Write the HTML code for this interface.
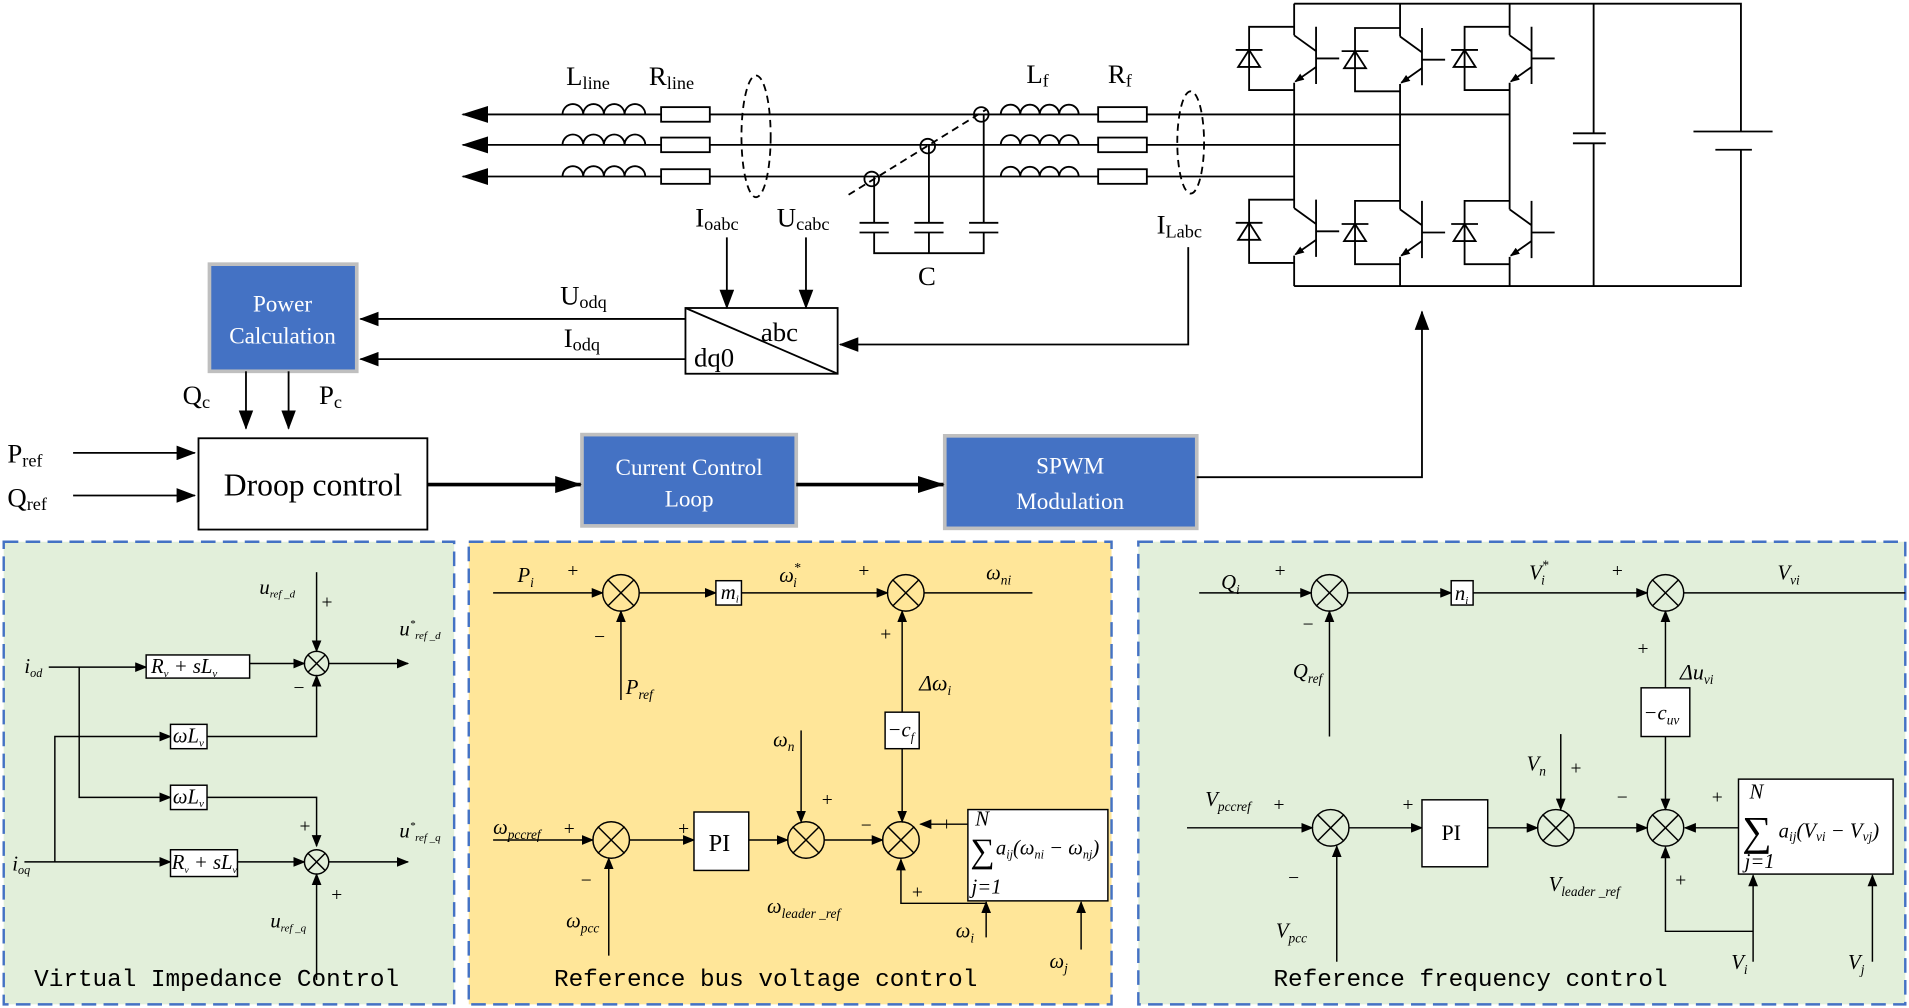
<!DOCTYPE html>
<html><head><meta charset="utf-8">
<style>
html,body{margin:0;padding:0;background:#fff;}
svg{display:block;}
text{font-family:"Liberation Serif",serif;fill:#000;}
.m{font-style:italic;font-size:17px;}
.mono{font-family:"Liberation Mono",monospace;font-size:20px;}
.bt{font-family:"Liberation Serif",serif;font-size:19px;fill:#fff;}
</style></head><body>
<svg width="1909" height="1008" viewBox="0 0 1568 828" xmlns="http://www.w3.org/2000/svg">
<defs>
<marker id="a" markerWidth="10" markerHeight="8" refX="9" refY="4" orient="auto" markerUnits="userSpaceOnUse"><path d="M0,0 L10,4 L0,8z" fill="#000"/></marker>
<marker id="b" markerWidth="22" markerHeight="14" refX="21" refY="7" orient="auto" markerUnits="userSpaceOnUse"><path d="M0,0 L22,7 L0,14z" fill="#000"/></marker>
<marker id="c" markerWidth="16" markerHeight="12" refX="15" refY="6" orient="auto" markerUnits="userSpaceOnUse"><path d="M0,0 L16,6 L0,12z" fill="#000"/></marker>
<marker id="e" markerWidth="8" markerHeight="6" refX="7" refY="3" orient="auto" markerUnits="userSpaceOnUse"><path d="M0,0 L8,3 L0,6z" fill="#000"/></marker>
<g id="sw" stroke="#000" stroke-width="1.5" fill="none">
<path d="M0,0 H-37 V52 H0"/>
<path d="M-48,19 H-26 M-37,19 L-46,33 H-28 Z"/>
<path d="M18,0 V47 M18,26 H37 M0,7 L18,20"/>
<line x1="18" y1="33" x2="1" y2="45" marker-end="url(#e)"/>
</g>
</defs>
<g stroke="#000" stroke-width="1.5" fill="none">
<line x1="1240" y1="94" x2="380" y2="94" marker-end="url(#b)"/>
<line x1="1150" y1="119" x2="380" y2="119" marker-end="url(#b)"/>
<line x1="1063" y1="145" x2="380" y2="145" marker-end="url(#b)"/>
</g>
<g stroke="#000" stroke-width="1.5" fill="#fff">
<path d="M462,94 a8,8 0 0 1 17,0 a8,8 0 0 1 17,0 a8,8 0 0 1 17,0 a8,8 0 0 1 17,0" fill="none"/>
<path d="M462,119 a8,8 0 0 1 17,0 a8,8 0 0 1 17,0 a8,8 0 0 1 17,0 a8,8 0 0 1 17,0" fill="none"/>
<path d="M462,145 a8,8 0 0 1 17,0 a8,8 0 0 1 17,0 a8,8 0 0 1 17,0 a8,8 0 0 1 17,0" fill="none"/>
<rect x="543" y="88" width="40" height="12"/><rect x="543" y="113" width="40" height="12"/><rect x="543" y="139" width="40" height="12"/>
<path d="M822,94 a8,8 0 0 1 16,0 a8,8 0 0 1 16,0 a8,8 0 0 1 16,0 a8,8 0 0 1 16,0" fill="none"/>
<path d="M822,119 a8,8 0 0 1 16,0 a8,8 0 0 1 16,0 a8,8 0 0 1 16,0 a8,8 0 0 1 16,0" fill="none"/>
<path d="M822,145 a8,8 0 0 1 16,0 a8,8 0 0 1 16,0 a8,8 0 0 1 16,0 a8,8 0 0 1 16,0" fill="none"/>
<rect x="902" y="88" width="40" height="12"/><rect x="902" y="113" width="40" height="12"/><rect x="902" y="139" width="40" height="12"/>
</g>
<g stroke="#000" stroke-width="1.5" fill="none" stroke-dasharray="6,4">
<ellipse cx="621" cy="112" rx="12" ry="50"/>
<ellipse cx="978" cy="117" rx="11" ry="42"/>
<line x1="697" y1="160" x2="810" y2="90"/>
</g>
<g stroke="#000" stroke-width="1.5" fill="none">
<circle cx="716" cy="147" r="6"/><circle cx="762" cy="120" r="6"/><circle cx="806" cy="94" r="6"/>
<line x1="718" y1="145" x2="718" y2="183"/><line x1="763" y1="119" x2="763" y2="183"/><line x1="808" y1="94" x2="808" y2="183"/>
<line x1="706" y1="183" x2="730" y2="183"/><line x1="706" y1="191" x2="730" y2="191"/>
<line x1="751" y1="183" x2="775" y2="183"/><line x1="751" y1="191" x2="775" y2="191"/>
<line x1="796" y1="183" x2="820" y2="183"/><line x1="796" y1="191" x2="820" y2="191"/>
<path d="M718,191 V208 H808 V191 M763,191 V208"/>
<path d="M1063,3 H1430 V108 M1430,123 V235 H1063"/>
<path d="M1309,3 V109.5 M1309,117.7 V235"/>
<path d="M1292,109.5 H1319 M1292,117.7 H1319"/>
<path d="M1391,108 H1456 M1409,123 H1439"/>
<path d="M1063,3 V29 M1063,68 V171 M1063,210 V235"/>
<path d="M1150,3 V30 M1150,69 V172 M1150,211 V235"/>
<path d="M1240,3 V29 M1240,68 V172 M1240,211 V235"/>
</g>
<use href="#sw" x="1063" y="22"/><use href="#sw" x="1150" y="23"/><use href="#sw" x="1240" y="22"/>
<use href="#sw" x="1063" y="164"/><use href="#sw" x="1150" y="165"/><use href="#sw" x="1240" y="165"/>
<g font-size="22">
<text x="465" y="70">L<tspan font-size="15" dy="3">line</tspan></text>
<text x="533" y="70">R<tspan font-size="15" dy="3">line</tspan></text>
<text x="843" y="68">L<tspan font-size="15" dy="3">f</tspan></text>
<text x="910" y="68">R<tspan font-size="15" dy="3">f</tspan></text>
<text x="571" y="186">I<tspan font-size="15" dy="3">oabc</tspan></text>
<text x="638" y="186">U<tspan font-size="15" dy="3">cabc</tspan></text>
<text x="950" y="192">I<tspan font-size="15" dy="3">Labc</tspan></text>
<text x="754" y="234">C</text>
<text x="460" y="250">U<tspan font-size="15" dy="3">odq</tspan></text>
<text x="463" y="285">I<tspan font-size="15" dy="3">odq</tspan></text>
<text x="150" y="332">Q<tspan font-size="15" dy="3">c</tspan></text>
<text x="262" y="332">P<tspan font-size="15" dy="3">c</tspan></text>
<text x="6" y="380">P<tspan font-size="15" dy="3">ref</tspan></text>
<text x="6" y="416">Q<tspan font-size="15" dy="3">ref</tspan></text>
</g>
<rect x="172" y="217" width="121" height="88" fill="#4472c4" stroke="#bfbfbf" stroke-width="3"/>
<text class="bt" x="232" y="256" text-anchor="middle">Power</text>
<text class="bt" x="232" y="282" text-anchor="middle">Calculation</text>
<rect x="563" y="253" width="125" height="54" fill="#fff" stroke="#000" stroke-width="1.5"/>
<line x1="563" y1="253" x2="688" y2="307" stroke="#000" stroke-width="1.5"/>
<text x="625" y="280" font-family="Liberation Sans" font-size="22">abc</text>
<text x="570" y="301" font-family="Liberation Sans" font-size="22">dq0</text>
<rect x="163" y="360" width="188" height="75" fill="#fff" stroke="#000" stroke-width="1.5"/>
<text x="257" y="407" font-size="26" text-anchor="middle">Droop control</text>
<rect x="478" y="357" width="176" height="75" fill="#4472c4" stroke="#bfbfbf" stroke-width="3"/>
<text class="bt" x="566" y="390" text-anchor="middle">Current Control</text>
<text class="bt" x="566" y="416" text-anchor="middle">Loop</text>
<rect x="776" y="358" width="207" height="76" fill="#4472c4" stroke="#bfbfbf" stroke-width="3"/>
<text class="bt" x="879" y="389" text-anchor="middle" font-size="21">SPWM</text>
<text class="bt" x="879" y="418" text-anchor="middle" font-size="21">Modulation</text>
<g stroke="#000" stroke-width="1.5" fill="none">
<line x1="563" y1="262" x2="296" y2="262" marker-end="url(#c)"/>
<line x1="563" y1="295" x2="296" y2="295" marker-end="url(#c)"/>
<line x1="597" y1="195" x2="597" y2="253" marker-end="url(#c)"/>
<line x1="662" y1="195" x2="662" y2="253" marker-end="url(#c)"/>
<path d="M976,203 V283 H690" marker-end="url(#c)"/>
<line x1="202" y1="305" x2="202" y2="352" marker-end="url(#c)"/>
<line x1="237" y1="305" x2="237" y2="352" marker-end="url(#c)"/>
<line x1="60" y1="372" x2="160" y2="372" marker-end="url(#c)"/>
<line x1="60" y1="407" x2="160" y2="407" marker-end="url(#c)"/>
<line x1="351" y1="398" x2="477" y2="398" stroke-width="3" marker-end="url(#b)"/>
<line x1="654" y1="398" x2="775" y2="398" stroke-width="3" marker-end="url(#b)"/>
<path d="M983,392 H1168 V256" marker-end="url(#c)"/>
</g>
<rect x="3" y="445" width="370" height="380" fill="#e2efda" stroke="#4472c4" stroke-width="2" stroke-dasharray="12,6"/>
<rect x="385" y="445" width="528" height="380" fill="#ffe699" stroke="#4472c4" stroke-width="2" stroke-dasharray="12,6"/>
<rect x="935" y="445" width="630" height="380" fill="#e2efda" stroke="#4472c4" stroke-width="2" stroke-dasharray="12,6"/>
<text class="mono" x="28" y="810">Virtual Impedance Control</text>
<text class="mono" x="455" y="810">Reference bus voltage control</text>
<text class="mono" x="1046" y="810">Reference frequency control</text>
<g stroke="#000" stroke-width="1.2" fill="none">
<line x1="40" y1="548" x2="120" y2="548" marker-end="url(#a)"/>
<rect x="120" y="538" width="85" height="19" fill="#fff"/>
<line x1="205" y1="545" x2="250" y2="545" marker-end="url(#a)"/>
<circle cx="260" cy="545" r="10"/><path d="M253,538 L267,552 M267,538 L253,552"/>
<line x1="270" y1="545" x2="335" y2="545" marker-end="url(#a)"/>
<line x1="260" y1="470" x2="260" y2="535" marker-end="url(#a)"/>
<path d="M65,548 V655 H140" marker-end="url(#a)"/>
<rect x="140" y="645" width="30" height="20" fill="#fff"/>
<path d="M170,655 H260 V695" marker-end="url(#a)"/>
<path d="M45,708 V605 H140" marker-end="url(#a)"/>
<rect x="140" y="595" width="30" height="20" fill="#fff"/>
<path d="M170,605 H260 V555" marker-end="url(#a)"/>
<line x1="20" y1="708" x2="140" y2="708" marker-end="url(#a)"/>
<rect x="140" y="698" width="55" height="22" fill="#fff"/>
<line x1="195" y1="708" x2="250" y2="708" marker-end="url(#a)"/>
<circle cx="260" cy="708" r="10"/><path d="M253,701 L267,715 M267,701 L253,715"/>
<line x1="270" y1="708" x2="335" y2="708" marker-end="url(#a)"/>
<line x1="260" y1="805" x2="260" y2="718" marker-end="url(#a)"/>
</g>
<text class="m" x="20" y="553" font-size="14">i<tspan font-size="10" dy="3">od</tspan></text>
<text class="m" x="10" y="715" font-size="14">i<tspan font-size="10" dy="3">oq</tspan></text>
<text class="m" x="124" y="553" font-size="14">R<tspan font-size="9" dy="3">v</tspan><tspan dy="-3"> + sL</tspan><tspan font-size="9" dy="3">v</tspan></text>
<text class="m" x="142" y="610" font-size="14">ωL<tspan font-size="9" dy="3">v</tspan></text>
<text class="m" x="142" y="660" font-size="14">ωL<tspan font-size="9" dy="3">v</tspan></text>
<text class="m" x="141" y="714" font-size="13">R<tspan font-size="8" dy="3">v</tspan><tspan dy="-3"> + sL</tspan><tspan font-size="8" dy="3">v</tspan></text>
<text class="m" x="213" y="488" font-size="13">u<tspan font-size="9" dy="3">ref _d</tspan></text>
<text class="m" x="328" y="522" font-size="13">u<tspan font-size="9" dy="-7">*</tspan><tspan font-size="9" dy="10">ref _d</tspan></text>
<text class="m" x="328" y="688" font-size="13">u<tspan font-size="9" dy="-7">*</tspan><tspan font-size="9" dy="10">ref _q</tspan></text>
<text class="m" x="222" y="762" font-size="13">u<tspan font-size="9" dy="3">ref _q</tspan></text>
<g font-size="16"><text x="264" y="500">+</text><text x="241" y="570">−</text><text x="246" y="684">+</text><text x="272" y="740">+</text></g>
<g stroke="#000" stroke-width="1.2" fill="none">
<line x1="405" y1="487" x2="495" y2="487" marker-end="url(#a)"/>
<circle cx="510" cy="487" r="15"/><path d="M499,476 L521,498 M521,476 L499,498"/>
<line x1="510" y1="575" x2="510" y2="502" marker-end="url(#a)"/>
<line x1="525" y1="487" x2="588" y2="487" marker-end="url(#a)"/>
<rect x="588" y="477" width="21" height="20" fill="#fff"/>
<line x1="609" y1="487" x2="729" y2="487" marker-end="url(#a)"/>
<circle cx="744" cy="487" r="15"/><path d="M733,476 L755,498 M755,476 L733,498"/>
<line x1="759" y1="487" x2="848" y2="487"/>
<rect x="727" y="585" width="28" height="30" fill="#fff"/>
<line x1="741" y1="585" x2="741" y2="502" marker-end="url(#a)"/>
<line x1="405" y1="690" x2="487" y2="690" marker-end="url(#a)"/>
<circle cx="502" cy="690" r="15"/><path d="M491,679 L513,701 M513,679 L491,701"/>
<line x1="500" y1="785" x2="500" y2="705" marker-end="url(#a)"/>
<line x1="517" y1="690" x2="570" y2="690" marker-end="url(#a)"/>
<rect x="570" y="667" width="45" height="48" fill="#fff"/>
<line x1="615" y1="690" x2="647" y2="690" marker-end="url(#a)"/>
<circle cx="662" cy="690" r="15"/><path d="M651,679 L673,701 M673,679 L651,701"/>
<line x1="658" y1="600" x2="658" y2="675" marker-end="url(#a)"/>
<line x1="677" y1="690" x2="725" y2="690" marker-end="url(#a)"/>
<circle cx="740" cy="690" r="15"/><path d="M729,679 L751,701 M751,679 L729,701"/>
<line x1="741" y1="615" x2="741" y2="675" marker-end="url(#a)"/>
<rect x="795" y="665" width="115" height="75" fill="#fff"/>
<line x1="795" y1="677" x2="756" y2="677" marker-end="url(#a)"/>
<path d="M810,742 H740 V706" marker-end="url(#a)"/>
<line x1="810" y1="770" x2="810" y2="741" marker-end="url(#a)"/>
<line x1="888" y1="780" x2="888" y2="741" marker-end="url(#a)"/>
</g>
<text class="m" x="425" y="478" font-size="18">P<tspan font-size="11" dy="4">i</tspan></text>
<text class="m" x="514" y="570" font-size="18">P<tspan font-size="11" dy="4">ref</tspan></text>
<text class="m" x="592" y="492" font-size="14">m<tspan font-size="9" dy="3">i</tspan></text>
<text class="m" x="640" y="478" font-size="18">ω<tspan font-size="11" dy="-8">*</tspan><tspan font-size="11" dy="12" dx="-6">i</tspan></text>
<text class="m" x="810" y="476" font-size="17">ω<tspan font-size="11" dy="4">ni</tspan></text>
<text class="m" x="729" y="605" font-size="15">−c<tspan font-size="10" dy="4">f</tspan></text>
<text x="755" y="567" font-size="18" font-style="italic">Δω<tspan font-size="11" dy="4">i</tspan></text>
<text class="m" x="635" y="613" font-size="18">ω<tspan font-size="11" dy="4">n</tspan></text>
<text class="m" x="405" y="685" font-size="17">ω<tspan font-size="11" dy="4">pccref</tspan></text>
<text class="m" x="465" y="762" font-size="17">ω<tspan font-size="11" dy="4">pcc</tspan></text>
<text x="582" y="699" font-size="20">PI</text>
<text class="m" x="630" y="750" font-size="17">ω<tspan font-size="11" dy="4">leader _ref</tspan></text>
<text x="797" y="708" font-size="28">∑</text>
<text class="m" x="801" y="678" font-size="9">N</text>
<text class="m" x="798" y="734" font-size="9">j=1</text>
<text class="m" x="818" y="702" font-size="16">a<tspan font-size="10" dy="3">ij</tspan><tspan dy="-3">(ω</tspan><tspan font-size="10" dy="3">ni</tspan><tspan dy="-3"> − ω</tspan><tspan font-size="10" dy="3">nj</tspan><tspan dy="-3">)</tspan></text>
<text class="m" x="785" y="770" font-size="17">ω<tspan font-size="11" dy="4">i</tspan></text>
<text class="m" x="862" y="795" font-size="17">ω<tspan font-size="11" dy="4">j</tspan></text>
<g font-size="16"><text x="466" y="474">+</text><text x="488" y="528">−</text><text x="705" y="474">+</text><text x="723" y="526">+</text><text x="463" y="686">+</text><text x="477" y="728">−</text><text x="557" y="686">+</text><text x="675" y="662">+</text><text x="707" y="683">−</text><text x="773" y="682">+</text><text x="749" y="738">+</text></g>
<g stroke="#000" stroke-width="1.2" fill="none">
<line x1="985" y1="487" x2="1077" y2="487" marker-end="url(#a)"/>
<circle cx="1092" cy="487" r="15"/><path d="M1081,476 L1103,498 M1103,476 L1081,498"/>
<line x1="1092" y1="605" x2="1092" y2="502" marker-end="url(#a)"/>
<line x1="1107" y1="487" x2="1192" y2="487" marker-end="url(#a)"/>
<rect x="1192" y="477" width="18" height="20" fill="#fff"/>
<line x1="1210" y1="487" x2="1353" y2="487" marker-end="url(#a)"/>
<circle cx="1368" cy="487" r="15"/><path d="M1357,476 L1379,498 M1379,476 L1357,498"/>
<line x1="1383" y1="487" x2="1565" y2="487"/>
<rect x="1348" y="565" width="40" height="40" fill="#fff"/>
<line x1="1368" y1="565" x2="1368" y2="502" marker-end="url(#a)"/>
<line x1="975" y1="680" x2="1078" y2="680" marker-end="url(#a)"/>
<circle cx="1093" cy="680" r="15"/><path d="M1082,669 L1104,691 M1104,669 L1082,691"/>
<line x1="1098" y1="790" x2="1098" y2="695" marker-end="url(#a)"/>
<line x1="1108" y1="680" x2="1168" y2="680" marker-end="url(#a)"/>
<rect x="1168" y="657" width="54" height="55" fill="#fff"/>
<line x1="1222" y1="680" x2="1263" y2="680" marker-end="url(#a)"/>
<circle cx="1278" cy="680" r="15"/><path d="M1267,669 L1289,691 M1289,669 L1267,691"/>
<line x1="1282" y1="603" x2="1282" y2="665" marker-end="url(#a)"/>
<line x1="1293" y1="680" x2="1353" y2="680" marker-end="url(#a)"/>
<circle cx="1368" cy="680" r="15"/><path d="M1357,669 L1379,691 M1379,669 L1357,691"/>
<line x1="1368" y1="605" x2="1368" y2="665" marker-end="url(#a)"/>
<rect x="1428" y="640" width="127" height="78" fill="#fff"/>
<line x1="1428" y1="680" x2="1384" y2="680" marker-end="url(#a)"/>
<path d="M1440,765 H1368 V696" marker-end="url(#a)"/>
<line x1="1440" y1="790" x2="1440" y2="719" marker-end="url(#a)"/>
<line x1="1538" y1="790" x2="1538" y2="719" marker-end="url(#a)"/>
</g>
<text class="m" x="1003" y="484" font-size="18">Q<tspan font-size="11" dy="4">i</tspan></text>
<text class="m" x="1062" y="557" font-size="18">Q<tspan font-size="11" dy="4">ref</tspan></text>
<text class="m" x="1195" y="493" font-size="14">n<tspan font-size="9" dy="3">i</tspan></text>
<text class="m" x="1256" y="476" font-size="18">V<tspan font-size="11" dy="-8">*</tspan><tspan font-size="11" dy="12" dx="-6">i</tspan></text>
<text class="m" x="1460" y="476" font-size="17">V<tspan font-size="11" dy="4">vi</tspan></text>
<text class="m" x="1350" y="591" font-size="17">−c<tspan font-size="11" dy="4">uv</tspan></text>
<text x="1380" y="558" font-size="18" font-style="italic">Δu<tspan font-size="11" dy="4">vi</tspan></text>
<text class="m" x="990" y="662" font-size="17">V<tspan font-size="11" dy="4">pccref</tspan></text>
<text class="m" x="1048" y="770" font-size="17">V<tspan font-size="11" dy="4">pcc</tspan></text>
<text x="1184" y="690" font-size="18">PI</text>
<text class="m" x="1254" y="633" font-size="17">V<tspan font-size="11" dy="4">n</tspan></text>
<text class="m" x="1272" y="732" font-size="17">V<tspan font-size="11" dy="4">leader _ref</tspan></text>
<text x="1431" y="694" font-size="34">∑</text>
<text class="m" x="1437" y="656" font-size="11">N</text>
<text class="m" x="1433" y="713" font-size="12">j=1</text>
<text class="m" x="1461" y="688" font-size="18">a<tspan font-size="11" dy="3">ij</tspan><tspan dy="-3">(V</tspan><tspan font-size="11" dy="3">vi</tspan><tspan dy="-3"> − V</tspan><tspan font-size="11" dy="3">vj</tspan><tspan dy="-3">)</tspan></text>
<text class="m" x="1422" y="796" font-size="17">V<tspan font-size="11" dy="4">i</tspan></text>
<text class="m" x="1518" y="796" font-size="17">V<tspan font-size="11" dy="4">j</tspan></text>
<g font-size="16"><text x="1047" y="474">+</text><text x="1070" y="518">−</text><text x="1324" y="474">+</text><text x="1345" y="538">+</text><text x="1046" y="666">+</text><text x="1058" y="726">−</text><text x="1152" y="666">+</text><text x="1290" y="636">+</text><text x="1328" y="660">−</text><text x="1406" y="660">+</text><text x="1376" y="728">+</text></g>
</svg>
</body></html>
